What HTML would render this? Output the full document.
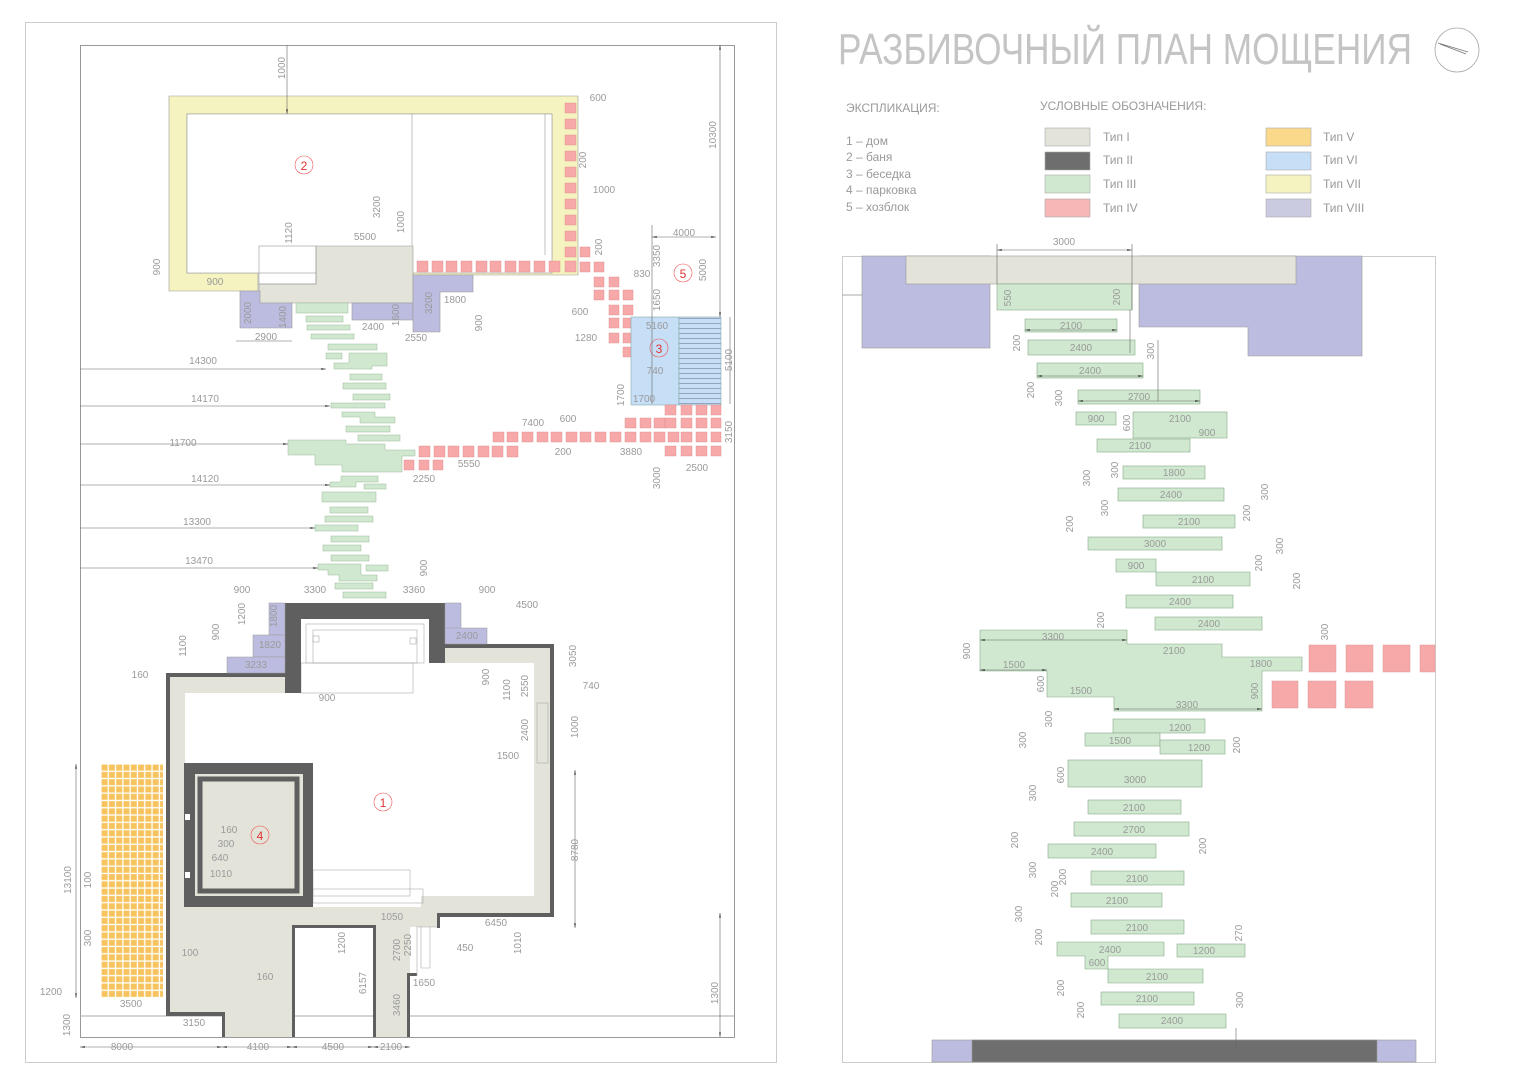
<!DOCTYPE html>
<html><head><meta charset="utf-8"><style>
html,body{margin:0;padding:0;background:#fff;}
svg{display:block;}
text{font-family:"Liberation Sans",sans-serif;fill:#9a9a9a;}
</style></head><body>
<svg width="1530" height="1080" viewBox="0 0 1530 1080" xmlns="http://www.w3.org/2000/svg">
<defs>
<pattern id="or" x="101" y="764" width="7.3" height="7.3" patternUnits="userSpaceOnUse"><rect width="7.3" height="7.3" fill="#fff"/><rect x="0.6" y="0.6" width="6" height="6" fill="#f7c35f"/></pattern>
<pattern id="hat" x="0" y="318" width="10" height="5" patternUnits="userSpaceOnUse"><rect width="10" height="5" fill="#c6def6"/><line x1="0" y1="0.5" x2="10" y2="0.5" stroke="#7a8ea6" stroke-width="0.7"/></pattern>
<marker id="a" markerWidth="8" markerHeight="4" refX="8" refY="2" orient="auto-start-reverse"><path d="M0,0.8 L8,2 L0,3.2z" fill="#111"/></marker>
</defs>
<rect x="0" y="0" width="1530" height="1080" fill="#fff"/>
<rect x="25.5" y="22.5" width="751" height="1040" fill="none" stroke="#ccc"/>
<rect x="80.5" y="45.5" width="654" height="992" fill="none" stroke="#999"/>
<line x1="80" y1="1016" x2="734" y2="1016" stroke="#aaa"/>

<!-- BATH -->
<g stroke="#999" stroke-width="0.6">
<path d="M169,96 H578 V275 H413 V258 H552 V114 H187 V273 H258 V291 H169Z" fill="#f5f3c0"/>
<rect x="187" y="114" width="365" height="159" fill="#fff"/>
<line x1="412" y1="114" x2="412" y2="258"/>
<line x1="545" y1="114" x2="545" y2="255"/>
<path d="M316,246 H413 V303 H259 V284 H316Z" fill="#e3e3da"/>
<rect x="259" y="246" width="57" height="38" fill="none"/>
<path d="M240,291 H260 V303 H292 V328 H240Z" fill="#bcbce0"/>
<rect x="352" y="303" width="61" height="17" fill="#bcbce0"/>
<path d="M413,275 H473 V292 H440 V332 H413Z" fill="#bcbce0"/>
</g>
<g fill="#f7a9a9" stroke="#d88" stroke-width="0.4">
<rect x="565" y="103" width="11" height="10"/><rect x="565" y="119" width="11" height="10"/><rect x="565" y="135" width="11" height="10"/><rect x="565" y="151" width="11" height="10"/><rect x="565" y="167" width="11" height="10"/><rect x="565" y="183" width="11" height="10"/><rect x="565" y="199" width="11" height="10"/><rect x="565" y="215" width="11" height="10"/><rect x="565" y="231" width="11" height="10"/><rect x="565" y="247" width="11" height="10"/>
<rect x="417" y="261" width="11" height="11"/><rect x="432" y="261" width="11" height="11"/><rect x="446" y="261" width="11" height="11"/><rect x="461" y="261" width="11" height="11"/><rect x="476" y="261" width="11" height="11"/><rect x="490" y="261" width="11" height="11"/><rect x="505" y="261" width="11" height="11"/><rect x="519" y="261" width="11" height="11"/><rect x="534" y="261" width="11" height="11"/><rect x="549" y="261" width="11" height="11"/><rect x="565" y="261" width="11" height="11"/>
<rect x="580" y="247" width="10" height="10"/><rect x="580" y="262" width="10" height="10"/><rect x="594" y="262" width="10" height="10"/><rect x="594" y="277" width="10" height="10"/><rect x="609" y="277" width="10" height="10"/><rect x="594" y="290" width="10" height="10"/><rect x="609" y="290" width="10" height="10"/><rect x="623" y="290" width="10" height="10"/><rect x="609" y="305" width="10" height="10"/><rect x="623" y="305" width="10" height="10"/><rect x="609" y="318" width="10" height="10"/><rect x="623" y="318" width="10" height="10"/><rect x="609" y="333" width="10" height="10"/><rect x="623" y="333" width="10" height="10"/><rect x="623" y="347" width="10" height="10"/>
</g>
<!-- gazebo -->
<rect x="631" y="317" width="48" height="88" fill="#c6def6" stroke="#8aa" stroke-width="0.6"/>
<rect x="679" y="317" width="42" height="88" fill="url(#hat)" stroke="#8aa" stroke-width="0.6"/>
<g fill="#f7a9a9" stroke="#d88" stroke-width="0.4">
<rect x="665" y="405" width="11" height="10"/><rect x="681" y="405" width="11" height="10"/><rect x="696" y="405" width="11" height="10"/><rect x="711" y="405" width="10" height="10"/>
<rect x="625" y="418" width="11" height="10"/><rect x="640" y="418" width="11" height="10"/><rect x="654" y="418" width="11" height="10"/><rect x="665" y="418" width="11" height="10"/><rect x="681" y="418" width="11" height="10"/><rect x="696" y="418" width="11" height="10"/><rect x="711" y="418" width="10" height="10"/>
<rect x="681" y="446" width="11" height="10"/><rect x="696" y="446" width="11" height="10"/><rect x="711" y="446" width="10" height="10"/><rect x="665" y="446" width="11" height="10"/>
<rect x="681" y="432" width="11" height="10"/><rect x="696" y="432" width="11" height="10"/><rect x="711" y="432" width="10" height="10"/>
<rect x="493" y="432" width="11" height="10"/><rect x="507" y="432" width="11" height="10"/><rect x="522" y="432" width="11" height="10"/><rect x="537" y="432" width="11" height="10"/><rect x="551" y="432" width="11" height="10"/><rect x="566" y="432" width="11" height="10"/><rect x="580" y="432" width="11" height="10"/><rect x="595" y="432" width="11" height="10"/><rect x="610" y="432" width="11" height="10"/><rect x="625" y="432" width="11" height="10"/><rect x="640" y="432" width="11" height="10"/><rect x="654" y="432" width="11" height="10"/><rect x="668" y="432" width="11" height="10"/>
<rect x="419" y="446" width="11" height="11"/><rect x="434" y="446" width="11" height="11"/><rect x="448" y="446" width="11" height="11"/><rect x="463" y="446" width="11" height="11"/><rect x="478" y="446" width="11" height="11"/><rect x="492" y="446" width="11" height="11"/><rect x="507" y="446" width="11" height="11"/>
<rect x="404" y="460" width="10" height="10"/><rect x="419" y="460" width="10" height="10"/><rect x="433" y="460" width="10" height="10"/>
</g>
<!-- stones left -->
<g fill="#cfe8cf" stroke="#9b9" stroke-width="0.5">
<rect x="296" y="303" width="52" height="10"/><rect x="306" y="316" width="37" height="6"/><rect x="307" y="325" width="43" height="5"/><rect x="311" y="334" width="43" height="5"/>
<rect x="328" y="344" width="49" height="6"/><rect x="326" y="353" width="16" height="6"/><path d="M349,353 H387 V366 H372 V369 H334 V363 H349Z"/>
<rect x="350" y="374" width="32" height="6"/><rect x="343" y="383" width="43" height="6"/><rect x="353" y="394" width="37" height="6"/><rect x="331" y="403" width="54" height="5"/>
<path d="M342,412 H375 V417 H395 V423 H360 V417 H342Z"/><rect x="346" y="426" width="44" height="6"/><rect x="358" y="435" width="42" height="6"/>
<path d="M288,440 H346 V444 H385 V450 H415 V456 H402 V472 H342 V465 H315 V455 H288Z"/>
<path d="M341,476 H378 V482 H356 V487 H330 V482 H341Z"/><rect x="364" y="484" width="22" height="5"/>
<rect x="322" y="492" width="54" height="10"/><rect x="330" y="507" width="38" height="6"/><rect x="325" y="516" width="48" height="6"/><rect x="315" y="525" width="43" height="6"/><rect x="331" y="536" width="38" height="6"/><rect x="323" y="545" width="38" height="6"/><rect x="331" y="555" width="38" height="6"/>
<path d="M318,564 H361 V575 H377 V581 H339 V575 H328 V570 H318Z"/><rect x="366" y="565" width="22" height="6"/><rect x="335" y="583" width="38" height="6"/><rect x="343" y="592" width="43" height="6"/>
</g>

<!-- HOUSE -->
<g>
<path d="M166,673 H285 V603 H445 V644 H553 V916 H440 V927 H410 V1037 H373 V928 H295 V1037 H222 V1015 H166Z" fill="#e3e3da"/>
<path d="M185,693 H301 V663 H413 V663 H534 V896 H421 V907 H185Z" fill="#fff"/>
<path d="M301,619 H429 V663 H413 V693 H301Z" fill="#fff"/>
<g fill="none" stroke="#aaa" stroke-width="0.6"><rect x="306" y="624" width="118" height="39"/><rect x="313" y="630" width="104" height="33"/><rect x="313" y="636" width="6" height="6"/><rect x="410" y="638" width="6" height="6"/><rect x="301" y="663" width="112" height="30"/><rect x="313" y="870" width="97" height="26"/><rect x="313" y="889" width="110" height="14"/><rect x="537" y="703" width="11" height="60"/></g>
<g fill="#5f5f5f">
<rect x="285" y="603" width="160" height="16"/><rect x="285" y="603" width="16" height="90"/><rect x="429" y="603" width="16" height="60"/>
<rect x="166" y="673" width="119" height="4"/><rect x="166" y="673" width="4" height="342"/><rect x="166" y="1012" width="59" height="4"/><rect x="222" y="1012" width="3" height="25"/>
<rect x="445" y="644" width="108" height="4"/><rect x="550" y="644" width="4" height="272"/><rect x="437" y="913" width="117" height="4"/><rect x="437" y="913" width="3" height="15"/>
<rect x="292" y="925" width="84" height="3"/><rect x="292" y="925" width="3" height="112"/><rect x="373" y="925" width="3" height="112"/><rect x="407" y="973" width="3" height="64"/><rect x="407" y="973" width="10" height="3"/>
</g>
<g fill="none" stroke="#aaa" stroke-width="0.6"><path d="M417,976 V927 H437 M421,927 V968 H430 V927"/></g>
<!-- parking -->
<rect x="184" y="763" width="129" height="144" fill="#5f5f5f"/>
<rect x="195" y="774" width="108" height="122" fill="#e3e3da"/>
<rect x="200" y="779" width="97" height="112" fill="none" stroke="#5f5f5f" stroke-width="5"/>
<rect x="185" y="814" width="5" height="6" fill="#fff"/><rect x="185" y="872" width="5" height="6" fill="#fff"/>
<rect x="101" y="764" width="62" height="234" fill="url(#or)"/>
<g fill="#bcbce0" stroke="#999" stroke-width="0.5">
<rect x="269" y="603" width="16" height="32"/><rect x="253" y="635" width="32" height="22"/><rect x="227" y="657" width="58" height="16"/>
<rect x="445" y="603" width="16" height="27"/><rect x="445" y="628" width="42" height="16"/>
</g>
</g>

<!-- labels circles -->
<g fill="none" stroke="#e55" stroke-width="0.6"><circle cx="304" cy="165" r="9"/><circle cx="683" cy="273" r="9"/><circle cx="659" cy="348" r="9"/><circle cx="383" cy="802" r="9"/><circle cx="260" cy="835" r="9"/></g>
<g font-size="12" text-anchor="middle"><text x="304" y="170" style="fill:#d33">2</text><text x="683" y="278" style="fill:#d33">5</text><text x="659" y="353" style="fill:#d33">3</text><text x="383" y="807" style="fill:#d33">1</text><text x="260" y="840" style="fill:#d33">4</text></g>

<!-- left dims -->
<g stroke="#666" stroke-width="0.6" fill="none">
<line x1="80" y1="369" x2="326" y2="369" marker-end="url(#a)"/><line x1="80" y1="406" x2="330" y2="406" marker-end="url(#a)"/><line x1="80" y1="444" x2="288" y2="444" marker-end="url(#a)"/><line x1="80" y1="485" x2="330" y2="485" marker-end="url(#a)"/><line x1="80" y1="528" x2="315" y2="528" marker-end="url(#a)"/><line x1="80" y1="568" x2="318" y2="568" marker-end="url(#a)"/>
<line x1="720" y1="45" x2="720" y2="317" marker-start="url(#a)" marker-end="url(#a)"/>
<line x1="287" y1="45" x2="287" y2="114" marker-end="url(#a)"/>
<line x1="80" y1="1047" x2="222" y2="1047" marker-start="url(#a)" marker-end="url(#a)"/><line x1="222" y1="1047" x2="292" y2="1047" marker-start="url(#a)" marker-end="url(#a)"/><line x1="292" y1="1047" x2="373" y2="1047" marker-start="url(#a)" marker-end="url(#a)"/><line x1="373" y1="1047" x2="410" y2="1047" marker-start="url(#a)" marker-end="url(#a)"/>
<line x1="76" y1="764" x2="76" y2="998" marker-start="url(#a)" marker-end="url(#a)"/>
<line x1="720" y1="913" x2="720" y2="1037" marker-start="url(#a)" marker-end="url(#a)"/>
<line x1="575" y1="770" x2="575" y2="928" marker-start="url(#a)" marker-end="url(#a)"/>
<line x1="652" y1="225" x2="652" y2="404"/><line x1="652" y1="237" x2="716" y2="237" marker-start="url(#a)" marker-end="url(#a)"/>
<line x1="730" y1="317" x2="730" y2="404"/><line x1="236" y1="341" x2="292" y2="341"/>
</g>
<g font-size="10" text-anchor="middle">
<text x="203" y="364">14300</text><text x="205" y="402">14170</text><text x="183" y="446">11700</text><text x="205" y="482">14120</text><text x="197" y="525">13300</text><text x="199" y="564">13470</text>
<text x="122" y="1050">8000</text><text x="258" y="1050">4100</text><text x="333" y="1050">4500</text><text x="391" y="1050">2100</text>
<text x="598" y="101">600</text><text x="604" y="193">1000</text><text x="684" y="236">4000</text><text x="365" y="240">5500</text><text x="215" y="285">900</text><text x="373" y="330">2400</text><text x="266" y="340">2900</text><text x="416" y="341">2550</text><text x="455" y="303">1800</text>
<text x="657" y="329">5160</text><text x="655" y="374">740</text><text x="644" y="402">1700</text><text x="580" y="315">600</text><text x="586" y="341">1280</text><text x="642" y="277">830</text><text x="533" y="426">7400</text><text x="568" y="422">600</text><text x="469" y="467">5550</text><text x="424" y="482">2250</text><text x="563" y="455">200</text><text x="631" y="455">3880</text><text x="697" y="471">2500</text>
<text x="242" y="593">900</text><text x="315" y="593">3300</text><text x="414" y="593">3360</text><text x="487" y="593">900</text><text x="527" y="608">4500</text><text x="467" y="639">2400</text><text x="256" y="668">3233</text><text x="270" y="648">1820</text><text x="140" y="678">160</text><text x="327" y="701">900</text><text x="508" y="759">1500</text><text x="591" y="689">740</text>
<text x="229" y="833">160</text><text x="226" y="847">300</text><text x="220" y="861">640</text><text x="221" y="877">1010</text><text x="190" y="956">100</text><text x="265" y="980">160</text><text x="392" y="920">1050</text><text x="496" y="926">6450</text><text x="465" y="951">450</text><text x="424" y="986">1650</text><text x="131" y="1007">3500</text><text x="194" y="1026">3150</text><text x="51" y="995">1200</text>
</g>
<g font-size="10" text-anchor="middle">
<text transform="translate(285,68) rotate(-90)">1000</text><text transform="translate(716,135) rotate(-90)">10300</text><text transform="translate(586,160) rotate(-90)">200</text><text transform="translate(380,207) rotate(-90)">3200</text><text transform="translate(404,222) rotate(-90)">1000</text><text transform="translate(292,233) rotate(-90)">1120</text><text transform="translate(160,267) rotate(-90)">900</text><text transform="translate(251,313) rotate(-90)">2000</text><text transform="translate(286,317) rotate(-90)">1400</text><text transform="translate(399,315) rotate(-90)">1600</text><text transform="translate(432,303) rotate(-90)">3200</text><text transform="translate(482,323) rotate(-90)">900</text><text transform="translate(602,247) rotate(-90)">200</text><text transform="translate(660,256) rotate(-90)">3350</text><text transform="translate(660,300) rotate(-90)">1650</text><text transform="translate(706,270) rotate(-90)">5000</text><text transform="translate(732,360) rotate(-90)">5100</text><text transform="translate(624,395) rotate(-90)">1700</text><text transform="translate(732,432) rotate(-90)">3150</text><text transform="translate(660,478) rotate(-90)">3000</text>
<text transform="translate(427,568) rotate(-90)">900</text><text transform="translate(245,614) rotate(-90)">1200</text><text transform="translate(219,632) rotate(-90)">900</text><text transform="translate(186,646) rotate(-90)">1100</text><text transform="translate(277,616) rotate(-90)">1800</text><text transform="translate(576,656) rotate(-90)">3050</text><text transform="translate(489,677) rotate(-90)">900</text><text transform="translate(510,690) rotate(-90)">1100</text><text transform="translate(528,686) rotate(-90)">2550</text><text transform="translate(528,730) rotate(-90)">2400</text><text transform="translate(578,727) rotate(-90)">1000</text><text transform="translate(578,850) rotate(-90)">8780</text><text transform="translate(521,943) rotate(-90)">1010</text><text transform="translate(345,943) rotate(-90)">1200</text><text transform="translate(366,983) rotate(-90)">6157</text><text transform="translate(400,950) rotate(-90)">2700</text><text transform="translate(411,945) rotate(-90)">2250</text><text transform="translate(400,1005) rotate(-90)">3460</text><text transform="translate(71,880) rotate(-90)">13100</text><text transform="translate(91,880) rotate(-90)">100</text><text transform="translate(91,938) rotate(-90)">300</text><text transform="translate(70,1025) rotate(-90)">1300</text><text transform="translate(718,993) rotate(-90)">1300</text>
</g>

<!-- RIGHT -->
<text x="838" y="64" font-size="44" textLength="574" lengthAdjust="spacingAndGlyphs" style="fill:#c4c4c4">РАЗБИВОЧНЫЙ ПЛАН МОЩЕНИЯ</text>
<circle cx="1457" cy="50" r="22" fill="none" stroke="#aaa" stroke-width="0.8"/>
<path d="M1438,43 L1468,52 M1440,44 L1466,54" stroke="#777" stroke-width="0.8"/>
<g font-size="12"><text x="846" y="112">ЭКСПЛИКАЦИЯ:</text><text x="1040" y="110">УСЛОВНЫЕ ОБОЗНАЧЕНИЯ:</text>
<text x="846" y="145">1 – дом</text><text x="846" y="161">2 – баня</text><text x="846" y="178">3 – беседка</text><text x="846" y="194">4 – парковка</text><text x="846" y="211">5 – хозблок</text>
<text x="1103" y="141">Тип I</text><text x="1103" y="164">Тип II</text><text x="1103" y="188">Тип III</text><text x="1103" y="212">Тип IV</text>
<text x="1323" y="141">Тип V</text><text x="1323" y="164">Тип VI</text><text x="1323" y="188">Тип VII</text><text x="1323" y="212">Тип VIII</text></g>
<g stroke="#aaa" stroke-width="0.6">
<rect x="1045" y="128" width="45" height="18" fill="#e3e3da"/><rect x="1045" y="152" width="45" height="18" fill="#6e6e6e"/><rect x="1045" y="175" width="45" height="18" fill="#cfe8cf"/><rect x="1045" y="199" width="45" height="18" fill="#f7b7b7"/>
<rect x="1266" y="128" width="45" height="18" fill="#fbd98a"/><rect x="1266" y="152" width="45" height="18" fill="#c6def6"/><rect x="1266" y="175" width="45" height="18" fill="#f5f3c0"/><rect x="1266" y="199" width="45" height="18" fill="#cacae0"/>
</g>
<rect x="842.5" y="256.5" width="593" height="806" fill="none" stroke="#ccc"/>
<line x1="842" y1="295" x2="862" y2="295" stroke="#aaa"/>
<g stroke="#999" stroke-width="0.6">
<rect x="862" y="256" width="128" height="92" fill="#bcbce0"/>
<path d="M1139,256 H1362 V356 H1248 V327 H1139Z" fill="#bcbce0"/>
<rect x="906" y="256" width="390" height="28" fill="#e3e3da"/>
<rect x="932" y="1040" width="484" height="22" fill="#bcbce0"/>
<rect x="972" y="1040" width="405" height="22" fill="#6e6e6e"/>
</g>
<g fill="#cfe8cf" stroke="#8a8" stroke-width="0.6">
<rect x="997" y="284" width="135" height="26"/><rect x="1025" y="319" width="92" height="13"/><rect x="1028" y="340" width="107" height="15"/><rect x="1037" y="363" width="106" height="15"/><rect x="1078" y="390" width="122" height="14"/>
<rect x="1076" y="412" width="40" height="13"/><rect x="1133" y="412" width="94" height="26"/><rect x="1097" y="439" width="93" height="13"/>
<rect x="1123" y="466" width="82" height="13"/><rect x="1118" y="488" width="106" height="13"/><rect x="1143" y="515" width="92" height="13"/><rect x="1088" y="537" width="134" height="13"/>
<path d="M1116,559 H1156 V572 H1250 V586 H1156 V572 H1116Z"/><rect x="1126" y="595" width="107" height="13"/><rect x="1155" y="617" width="107" height="13"/>
<path d="M980,630 H1127 V644 H1222 V657 H1302 V671 H1262 V711 H1114 V697 H1047 V671 H980Z"/>
<rect x="1113" y="719" width="92" height="14"/><rect x="1085" y="733" width="75" height="13"/><rect x="1160" y="740" width="65" height="14"/>
<rect x="1068" y="760" width="134" height="27"/><rect x="1088" y="800" width="93" height="14"/><rect x="1074" y="822" width="115" height="14"/><rect x="1048" y="844" width="108" height="14"/>
<rect x="1091" y="871" width="93" height="14"/><rect x="1071" y="893" width="91" height="14"/><rect x="1091" y="920" width="93" height="14"/>
<path d="M1057,942 H1164 V956 H1108 V969 H1203 V983 H1108 V969 H1085 V956 H1057Z"/><rect x="1177" y="944" width="68" height="13"/>
<rect x="1101" y="992" width="93" height="13"/><rect x="1119" y="1014" width="107" height="14"/>
</g>
<g fill="#f7a9a9" stroke="#d99" stroke-width="0.5">
<rect x="1309" y="645" width="27" height="27"/><rect x="1346" y="645" width="27" height="27"/><rect x="1383" y="645" width="27" height="27"/><rect x="1420" y="645" width="15" height="27"/>
<rect x="1272" y="681" width="26" height="27"/><rect x="1308" y="681" width="28" height="27"/><rect x="1345" y="681" width="28" height="27"/>
</g>
<g stroke="#666" stroke-width="0.6" fill="none">
<line x1="997" y1="250" x2="1132" y2="250" marker-start="url(#a)" marker-end="url(#a)"/><line x1="997" y1="244" x2="997" y2="284"/><line x1="1132" y1="244" x2="1132" y2="310"/>
<line x1="1025" y1="330" x2="1117" y2="330" marker-start="url(#a)" marker-end="url(#a)"/><line x1="1037" y1="376" x2="1143" y2="376" marker-start="url(#a)" marker-end="url(#a)"/><line x1="1078" y1="401" x2="1200" y2="401" marker-start="url(#a)" marker-end="url(#a)"/>
<line x1="1158" y1="340" x2="1158" y2="401"/><line x1="1130" y1="310" x2="1130" y2="353"/>
<line x1="980" y1="640" x2="1127" y2="640" marker-start="url(#a)" marker-end="url(#a)"/><line x1="980" y1="670" x2="1047" y2="670" marker-start="url(#a)" marker-end="url(#a)"/><line x1="1114" y1="709" x2="1262" y2="709" marker-start="url(#a)" marker-end="url(#a)"/>
<line x1="1236" y1="1028" x2="1236" y2="1050"/>
</g>
<g font-size="10" text-anchor="middle">
<text x="1064" y="245">3000</text><text x="1071" y="329">2100</text><text x="1081" y="351">2400</text><text x="1090" y="374">2400</text><text x="1139" y="400">2700</text><text x="1096" y="422">900</text><text x="1180" y="422">2100</text><text x="1207" y="436">900</text><text x="1140" y="449">2100</text><text x="1174" y="476">1800</text><text x="1171" y="498">2400</text><text x="1189" y="525">2100</text><text x="1155" y="547">3000</text><text x="1136" y="569">900</text><text x="1203" y="583">2100</text><text x="1180" y="605">2400</text><text x="1209" y="627">2400</text>
<text x="1053" y="640">3300</text><text x="1174" y="654">2100</text><text x="1261" y="667">1800</text><text x="1014" y="668">1500</text><text x="1081" y="694">1500</text><text x="1187" y="708">3300</text>
<text x="1180" y="731">1200</text><text x="1120" y="744">1500</text><text x="1199" y="751">1200</text><text x="1135" y="783">3000</text><text x="1134" y="811">2100</text><text x="1134" y="833">2700</text><text x="1102" y="855">2400</text><text x="1137" y="882">2100</text><text x="1117" y="904">2100</text><text x="1137" y="931">2100</text><text x="1110" y="953">2400</text><text x="1204" y="954">1200</text><text x="1097" y="966">600</text><text x="1157" y="980">2100</text><text x="1147" y="1002">2100</text><text x="1172" y="1024">2400</text>
</g>
<g font-size="10" text-anchor="middle">
<text transform="translate(1011,298) rotate(-90)">550</text><text transform="translate(1120,297) rotate(-90)">200</text><text transform="translate(1020,343) rotate(-90)">200</text><text transform="translate(1154,351) rotate(-90)">300</text><text transform="translate(1034,390) rotate(-90)">200</text><text transform="translate(1062,398) rotate(-90)">300</text><text transform="translate(1130,423) rotate(-90)">600</text><text transform="translate(1090,478) rotate(-90)">300</text><text transform="translate(1118,470) rotate(-90)">300</text><text transform="translate(1108,508) rotate(-90)">300</text><text transform="translate(1268,492) rotate(-90)">300</text><text transform="translate(1250,513) rotate(-90)">200</text><text transform="translate(1073,524) rotate(-90)">200</text><text transform="translate(1283,546) rotate(-90)">300</text><text transform="translate(1262,563) rotate(-90)">200</text><text transform="translate(1300,581) rotate(-90)">200</text><text transform="translate(1104,620) rotate(-90)">200</text><text transform="translate(1328,632) rotate(-90)">300</text><text transform="translate(970,651) rotate(-90)">900</text><text transform="translate(1044,684) rotate(-90)">600</text><text transform="translate(1258,691) rotate(-90)">900</text><text transform="translate(1052,719) rotate(-90)">300</text><text transform="translate(1026,740) rotate(-90)">300</text><text transform="translate(1240,745) rotate(-90)">200</text><text transform="translate(1064,775) rotate(-90)">600</text><text transform="translate(1036,793) rotate(-90)">300</text><text transform="translate(1018,840) rotate(-90)">200</text><text transform="translate(1206,846) rotate(-90)">200</text><text transform="translate(1036,870) rotate(-90)">300</text><text transform="translate(1058,889) rotate(-90)">200</text><text transform="translate(1066,877) rotate(-90)">200</text><text transform="translate(1022,914) rotate(-90)">300</text><text transform="translate(1042,937) rotate(-90)">200</text><text transform="translate(1242,933) rotate(-90)">270</text><text transform="translate(1064,988) rotate(-90)">200</text><text transform="translate(1084,1010) rotate(-90)">200</text><text transform="translate(1243,1000) rotate(-90)">300</text>
</g>
</svg>
</body></html>
